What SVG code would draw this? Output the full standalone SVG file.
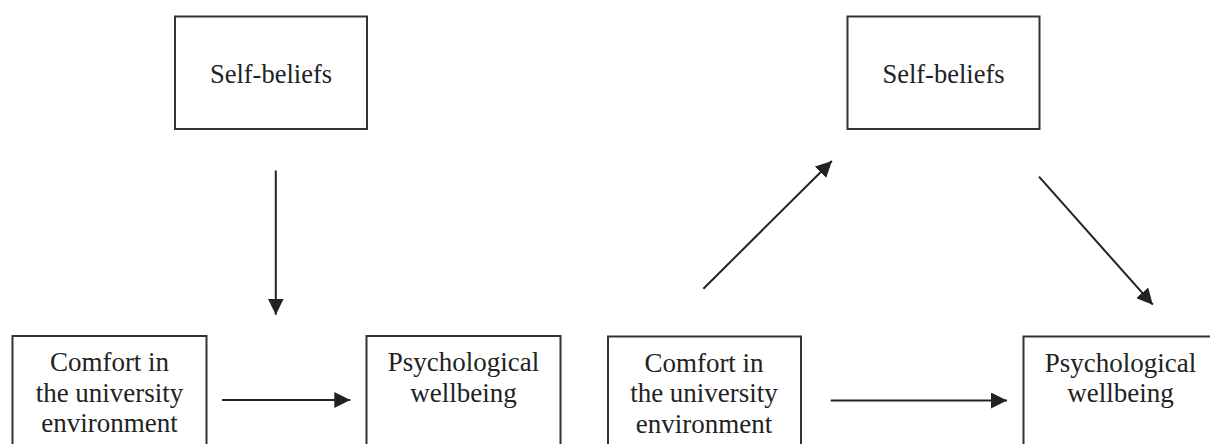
<svg xmlns="http://www.w3.org/2000/svg" width="1210" height="444" viewBox="0 0 1210 444">
<style>
.box{fill:#fff;stroke:#333;stroke-width:2}
.t{font-family:"Liberation Serif",serif;font-size:27px;fill:#222;text-anchor:middle}
.sb{font-size:26.5px}
.c{stroke:#222;stroke-width:2;fill:none;marker-end:url(#ah)}
</style>
<defs>
<marker id="ah" markerUnits="userSpaceOnUse" markerWidth="17" markerHeight="16" refX="16" refY="8" orient="auto" viewBox="0 0 17 16">
<path d="M0,0 L16,8 L0,16 z" fill="#222"/>
</marker>
</defs>
<rect width="1210" height="444" fill="#fff"/>
<g id="self-beliefs-1">
<rect class="box" x="175" y="16.5" width="192" height="112.5"/>
<text class="t sb" x="271" y="83">Self-beliefs</text>
</g>
<g id="comfort-1">
<rect class="box" x="12.5" y="336" width="194" height="130"/>
<text class="t" x="109.5" y="371">Comfort in</text>
<text class="t" x="109.5" y="401.5">the university</text>
<text class="t" x="109.5" y="432">environment</text>
</g>
<g id="wellbeing-1">
<rect class="box" x="366.5" y="336" width="194" height="130"/>
<text class="t" x="463.5" y="371">Psychological</text>
<text class="t" x="463.5" y="401.5">wellbeing</text>
</g>
<g id="self-beliefs-2">
<rect class="box" x="847.5" y="16.5" width="192" height="112.5"/>
<text class="t sb" x="943.5" y="83">Self-beliefs</text>
</g>
<g id="comfort-2">
<rect class="box" x="608" y="336.5" width="193" height="130"/>
<text class="t" x="704" y="371.5">Comfort in</text>
<text class="t" x="704" y="402">the university</text>
<text class="t" x="704" y="432.5">environment</text>
</g>
<g id="wellbeing-2">
<rect class="box" x="1023.5" y="336.5" width="194" height="130"/>
<text class="t" x="1120.5" y="371.5">Psychological</text>
<text class="t" x="1120.5" y="402">wellbeing</text>
</g>
<g id="connectors">
<line class="c" x1="275.8" y1="170.5" x2="275.8" y2="314.7"/>
<line class="c" x1="222" y1="400" x2="350.3" y2="400"/>
<line class="c" x1="703.4" y1="288.7" x2="831.9" y2="161"/>
<line class="c" x1="1039" y1="176.7" x2="1152.8" y2="304.7"/>
<line class="c" x1="830.7" y1="400.5" x2="1007" y2="400.5"/>
</g>
</svg>
